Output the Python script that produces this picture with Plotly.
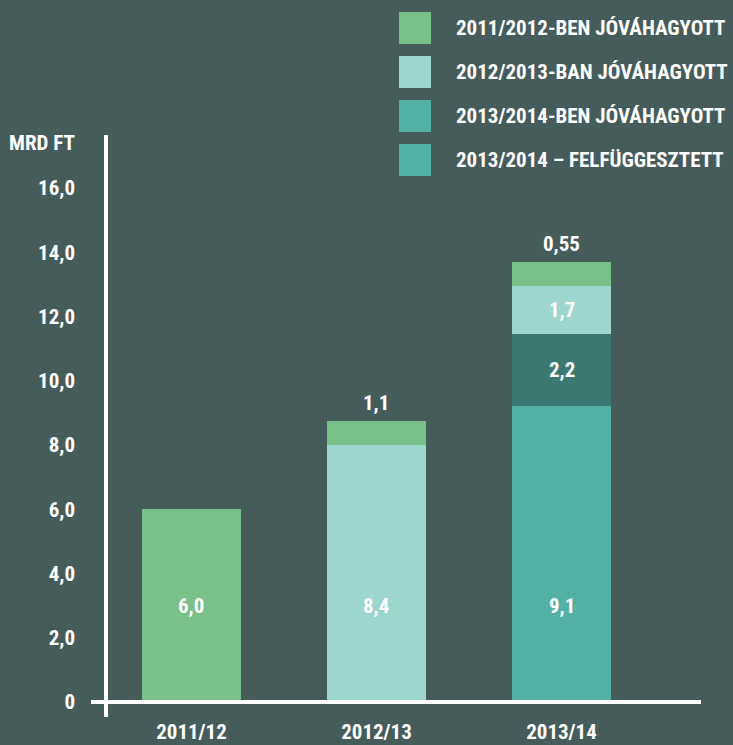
import plotly.graph_objects as go

# ---------------- data ----------------
categories = ["2011/12", "2012/13", "2013/14"]
# segment heights as drawn (Mrd Ft)
seg_2013_susp = [None, None, 9.2]    # 2013/2014 – felfüggesztett (bottom teal)
seg_2013_appr = [None, None, 2.25]   # 2013/2014-ben jóváhagyott (dark teal)
seg_2012_appr = [None, 8.0, 1.5]     # 2012/2013-ban jóváhagyott
seg_2011_appr = [6.0, 0.75, 0.75]    # 2011/2012-ben jóváhagyott
# printed labels
bottom_labels = ["6,0", "8,4", "9,1"]
top_labels = [None, "1,1", "0,55"]
mid_labels_dark = [None, None, "2,2"]
mid_labels_light = [None, None, "1,7"]
legend_names = ["2011/2012-BEN JÓVÁHAGYOTT", "2012/2013-BAN JÓVÁHAGYOTT",
                "2013/2014-BEN JÓVÁHAGYOTT", "2013/2014 – FELFÜGGESZTETT"]
y_tickvals = [0, 2, 4, 6, 8, 10, 12, 14, 16]
y_ticktext = ["0", "2,0", "4,0", "6,0", "8,0", "10,0", "12,0", "14,0", "16,0"]
y_title = "MRD FT"

# ---------------- style ----------------
BG = "#465c5b"
GREEN = "#79c08a"
LIGHT = "#9dd5cf"
DARK = "#3c7872"
TEAL = "#52b0a4"
legend_colors = [GREEN, LIGHT, TEAL, TEAL]
FONT = "Roboto Condensed, Open Sans, sans-serif"
FS = 21
TXT = dict(family=FONT, size=FS, color="white", weight="bold")

W, H = 733, 745
L, R, T, B = 106, 701, 135, 702   # plot area in pixels
YMAX = 17.65

def px(xp):
    return (xp - L) / (R - L)

def py(yp):
    return (B - yp) / (B - T)

fig = go.Figure()
for vals, col in [(seg_2013_susp, TEAL), (seg_2013_appr, DARK),
                  (seg_2012_appr, LIGHT), (seg_2011_appr, GREEN)]:
    fig.add_trace(go.Bar(x=categories, y=vals, marker=dict(color=col, line=dict(width=0)),
                         width=0.535, showlegend=False, hoverinfo="skip"))

ann = []
# bottom labels at fixed height
for c, t in zip(categories, bottom_labels):
    ann.append(dict(x=c, y=3.0, xref="x", yref="y", text=t, showarrow=False, font=TXT,
                    xanchor="center", yanchor="middle"))
# totals and segment labels
for i, c in enumerate(categories):
    tot = sum(v for v in (seg_2013_susp[i], seg_2013_appr[i], seg_2012_appr[i], seg_2011_appr[i]) if v)
    if top_labels[i]:
        ann.append(dict(x=c, y=tot, xref="x", yref="y", text=top_labels[i], showarrow=False,
                        xanchor="center", yanchor="bottom", yshift=4, font=TXT))
    if mid_labels_dark[i]:
        base = seg_2013_susp[i]
        ann.append(dict(x=c, y=base + seg_2013_appr[i] / 2, xref="x", yref="y",
                        text=mid_labels_dark[i], showarrow=False, font=TXT,
                        xanchor="center", yanchor="middle"))
    if mid_labels_light[i]:
        base = (seg_2013_susp[i] or 0) + (seg_2013_appr[i] or 0)
        ann.append(dict(x=c, y=base + seg_2012_appr[i] / 2, xref="x", yref="y",
                        text=mid_labels_light[i], showarrow=False, font=TXT,
                        xanchor="center", yanchor="middle"))

# y title
ann.append(dict(x=px(77), y=py(143), xref="paper", yref="paper", text=y_title, showarrow=False,
                xanchor="right", yanchor="middle", font=TXT))

shapes = []
# legend
for k, (name, col) in enumerate(zip(legend_names, legend_colors)):
    cy = 28 + 44 * k
    shapes.append(dict(type="rect", xref="paper", yref="paper", x0=px(399), x1=px(431),
                       y0=py(cy + 16), y1=py(cy - 16), fillcolor=col, line=dict(width=0)))
    ann.append(dict(x=px(454), y=py(cy), xref="paper", yref="paper", text=name, showarrow=False,
                    xanchor="left", yanchor="middle", font=TXT))

# axis lines
shapes.append(dict(type="line", xref="paper", yref="paper", x0=0, x1=0, y0=py(717), y1=1,
                   line=dict(color="white", width=4), layer="above"))
shapes.append(dict(type="line", xref="paper", yref="paper", x0=px(91), x1=1, y0=0, y1=0,
                   line=dict(color="white", width=4), layer="above"))

fig.update_layout(
    width=W, height=H, barmode="stack",
    margin=dict(l=L, r=W - R, t=T, b=H - B, pad=0, autoexpand=False),
    paper_bgcolor=BG, plot_bgcolor=BG,
    font=TXT,
    xaxis=dict(type="category", range=[-0.462, 2.754], showgrid=False, zeroline=False,
               showline=False, ticks="", tickfont=TXT, ticklabelstandoff=15, automargin=False),
    yaxis=dict(range=[0, YMAX], showgrid=False, zeroline=False, showline=False, ticks="",
               tickvals=y_tickvals, ticktext=y_ticktext, tickfont=TXT, ticklabelstandoff=30,
               automargin=False),
    annotations=ann, shapes=shapes,
)

fig.write_html("out.html", config={"displayModeBar": False},
               post_script="document.body.style.margin='0';document.body.style.overflow='hidden';")
